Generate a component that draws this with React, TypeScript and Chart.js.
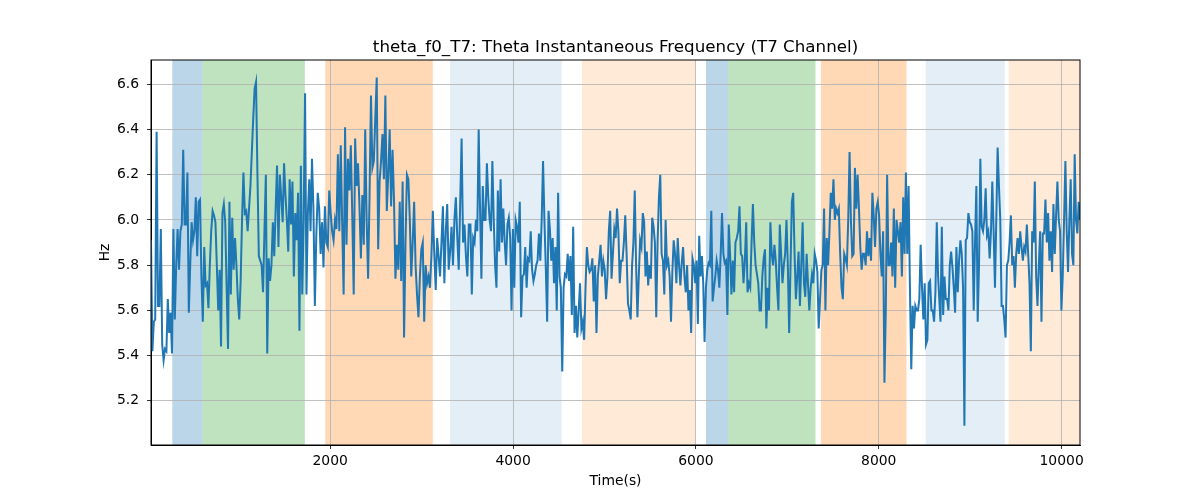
import { useEffect, useRef } from 'react';
import Chart from 'chart.js/auto';

// Hz readings, split into chunks that each cover a time window (s)
const seg1 = [5.91, 5.42, 5.55, 5.56, 6.39, 5.62, 5.62, 5.96, 5.45, 5.38, 5.43, 5.42, 5.65, 5.5, 5.59, 5.41, 5.96, 5.56, 5.8, 5.96, 5.78, 5.95, 5.98, 6.31, 5.98, 5.98, 6.21, 5.59, 5.8, 5.99, 5.91, 5.95, 6.1, 5.84, 6.08, 6.09, 5.75, 5.55, 5.88, 5.71, 5.72, 5.61, 5.8, 5.95, 6.04, 6.02, 5.99, 5.8, 5.6, 5.78, 5.44, 6.03, 6.07, 5.99, 5.7, 5.43, 6.08, 5.67, 6.01, 5.78, 5.92, 5.8, 5.65, 5.56, 5.73, 6.0, 6.21, 6.03, 6.04, 5.95, 6.05, 6.15, 6.3, 6.45, 6.58, 6.61, 6.2, 5.84, 5.82, 5.8, 5.68, 5.95, 6.2, 5.41, 5.83, 5.73, 5.8, 5.99, 5.84, 6.05, 6.24, 5.88, 6.2, 6.1, 5.99, 6.25, 6.11, 6.0, 5.86, 6.18, 5.98, 6.17, 5.75, 6.03, 5.91, 6.12, 5.51, 6.24, 5.67, 6.0, 6.56, 5.67, 6.03, 6.18];
const seg2 = [5.95, 6.27, 6.05, 5.62, 5.93, 6.12, 6.05, 5.85, 5.99, 5.79, 6.06, 5.9, 5.88, 6.13, 6.03, 5.95, 5.91, 6.0, 5.96, 6.29, 5.95, 6.33, 5.98, 5.67, 6.41, 5.89, 6.27, 6.13, 6.33, 6.02, 5.67, 6.36, 6.15, 6.25, 6.06, 5.83, 6.11, 5.89, 6.4, 6.0, 5.74, 6.1, 6.55, 6.23, 6.26, 6.45, 6.63, 5.87, 6.17, 6.26, 6.38, 6.18, 6.55, 6.04, 6.2, 6.4, 6.06, 6.31, 6.09, 5.74, 5.89, 5.78, 6.08, 5.73, 6.17, 5.48, 5.9, 6.2, 6.18, 6.0, 5.75, 5.9, 6.08, 5.8, 5.67, 5.57, 5.75, 5.87, 5.9, 5.55, 5.8, 5.72, 5.75, 5.7, 5.84, 6.04, 5.85, 5.69, 5.92, 5.84, 5.75, 5.9, 6.06, 5.72, 5.95, 6.07, 5.78, 5.86, 5.97, 5.8, 6.0, 6.1, 5.92, 5.78, 6.07, 6.36, 5.9, 5.98, 5.84, 5.75, 5.98];
const seg3 = [5.98, 5.67, 5.92, 5.9, 6.0, 5.95, 6.4, 6.05, 5.74, 6.15, 6.0, 6.0, 6.25, 6.1, 6.0, 5.95, 6.26, 6.0, 5.8, 5.7, 6.13, 5.86, 6.18, 5.9, 6.05, 5.9, 5.8, 5.98, 6.01, 5.92, 5.6, 5.96, 5.7, 6.0, 5.97, 5.9, 6.08, 5.57, 5.75, 5.76, 5.88, 5.7, 5.83, 5.82, 5.95, 5.78, 5.73, 5.76, 5.8, 5.82, 5.94, 5.82, 6.0, 6.26, 6.0, 5.79, 5.55, 6.04, 5.96, 5.82, 5.92, 5.72, 5.88, 5.6, 6.12, 5.75, 5.7, 5.33, 5.7, 5.76, 5.75, 5.85, 5.73, 5.84, 5.58, 5.97, 5.5, 5.62, 5.48, 5.6, 5.72, 5.52, 5.55, 5.47, 5.7, 5.88, 5.8, 5.77, 5.78, 5.83, 5.64, 5.8, 5.5, 5.75, 5.82, 5.89, 5.75, 5.82, 5.78, 5.65, 5.75, 5.95, 6.04, 5.74, 5.85, 5.96, 5.92, 6.05, 5.95, 5.72, 5.82, 5.82, 5.9, 6.02, 5.85, 5.63, 5.6];
const seg4 = [5.56, 5.8, 5.9, 6.13, 5.8, 5.57, 5.75, 5.91, 5.88, 6.03, 5.99, 5.75, 5.86, 5.71, 5.8, 5.74, 6.01, 5.97, 5.9, 5.57, 5.9, 6.1, 6.2, 5.85, 5.82, 5.67, 6.0, 5.8, 5.82, 5.75, 5.55, 5.77, 5.91, 5.85, 5.72, 5.92, 5.8, 5.71, 5.81, 5.88, 5.75, 5.68, 5.8, 5.6, 5.69, 5.5, 5.83, 5.8, 5.72, 5.82, 5.54, 5.93, 5.75, 5.84, 5.72, 5.46, 5.7, 5.78, 5.81, 5.8, 6.04, 5.64, 5.7, 5.75, 5.82, 5.78, 5.7, 5.85, 6.03, 5.85, 5.81, 5.82, 5.58, 5.98, 5.85, 5.67, 5.82, 5.68, 5.9, 5.92, 5.95, 6.06, 5.85, 5.84, 5.72, 5.82, 5.99, 5.68, 5.72, 5.7, 5.9, 6.07, 5.9, 5.8, 5.76, 5.72, 5.6, 5.6, 5.75, 5.83, 5.87, 5.52, 5.7, 5.6, 5.99, 5.85, 5.8, 5.89, 5.82, 5.7, 5.6, 5.98, 5.85, 5.72, 5.8, 5.85, 6.0, 5.8, 5.5];
const seg5 = [5.8, 6.08, 6.12, 5.85, 5.65, 5.75, 5.86, 5.62, 5.8, 5.99, 5.72, 5.66, 5.85, 5.72, 5.6, 5.7, 5.76, 5.72, 5.85, 5.82, 5.77, 5.52, 5.65, 5.78, 5.8, 6.05, 5.6, 5.92, 5.8, 5.95, 6.12, 6.05, 6.18, 6.0, 6.05, 6.03, 6.05, 5.85, 5.7, 5.65, 5.85, 5.83, 5.8, 6.0, 6.3, 6.0, 5.84, 5.85, 6.23, 6.05, 6.2, 6.05, 5.88, 5.78, 5.85, 5.85, 5.8, 5.95, 5.84, 5.92, 5.82, 6.12, 6.02, 5.88, 6.05, 6.08, 6.02, 5.85, 5.75, 5.95, 5.28, 5.6, 6.2, 5.8, 5.8, 5.9, 5.75, 6.05, 5.7, 6.0, 5.95, 5.9, 5.99, 5.75, 6.1, 5.85, 6.21, 5.85, 6.15, 5.7, 5.34, 5.62, 5.52, 5.62, 5.6, 5.6, 5.65, 5.89, 5.7, 5.56, 5.72, 5.45, 5.47, 5.72, 5.73, 5.6, 5.6, 5.55, 5.68, 5.99, 5.75];
const seg6 = [5.55, 5.97, 5.58, 5.75, 5.65, 5.65, 5.6, 5.8, 5.86, 5.79, 5.7, 5.59, 5.88, 5.68, 5.82, 5.91, 5.85, 5.7, 5.09, 5.91, 5.92, 6.03, 5.99, 5.98, 5.95, 5.6, 5.9, 6.15, 5.55, 5.8, 6.27, 5.97, 5.95, 6.0, 6.14, 5.93, 5.95, 5.83, 5.95, 6.17, 5.95, 5.7, 6.0, 6.32, 6.15, 6.0, 5.62, 5.62, 5.56, 5.48, 5.8, 5.82, 5.9, 6.02, 5.8, 5.84, 5.7, 5.85, 5.92, 5.85, 5.95, 5.88, 5.82, 5.88, 5.86, 5.98, 5.85, 5.72, 5.42, 5.95, 5.9, 6.17, 5.75, 5.62, 5.8, 5.95, 5.55, 5.94, 5.94, 6.09, 5.9, 6.03, 5.82, 5.95, 5.77, 6.07, 5.85, 6.02, 6.17, 6.0, 5.95, 5.6, 5.75, 6.0, 6.26, 5.95, 5.77, 6.0, 6.18, 5.85, 5.8, 6.29, 6.0, 5.94, 6.08, 6.0];

const segments = [seg1, seg2, seg3, seg4, seg5, seg6];
const segmentStarts = [40, 1785, 3534, 5287, 7035, 8675];
const segmentEnds = [1771, 3516, 5272, 7020, 8649, 10201];

// shaded intervals: start, end, kind
const spanStarts = [273, 601, 1946, 3312, 4754, 6110, 6354, 7367, 8514, 9421];
const spanEnds = [601, 1723, 3122, 4532, 5990, 6354, 7308, 8303, 9378, 10201];
const spanKinds = ['blue', 'green', 'orange', 'lightblue', 'lightorange', 'blue', 'green', 'orange', 'lightblue', 'lightorange'];

const xTicks = [2000, 4000, 6000, 8000, 10000];
const yTicks = [5.2, 5.4, 5.6, 5.8, 6.0, 6.2, 6.4, 6.6];

const titleText = 'theta_f0_T7: Theta Instantaneous Frequency (T7 Channel)';

const spanColors: Record<string, string> = {
  blue: 'rgba(31, 119, 180, 0.3)',
  green: 'rgba(44, 160, 44, 0.3)',
  orange: 'rgba(255, 127, 14, 0.3)',
  lightblue: 'rgba(31, 119, 180, 0.12)',
  lightorange: 'rgba(255, 127, 14, 0.16)',
};

const FONT = 'DejaVu Sans';

export default function App() {
  const canvasRef = useRef<HTMLCanvasElement | null>(null);

  useEffect(() => {
    document.body.style.margin = '0';
    if (!canvasRef.current) return;

    const points: { x: number; y: number }[] = [];
    segments.forEach((vals, s) => {
      const step = (segmentEnds[s] - segmentStarts[s]) / (vals.length - 1);
      vals.forEach((v, i) => points.push({ x: segmentStarts[s] + i * step, y: v }));
    });

    const decorPlugin = {
      id: 'decor',
      beforeDraw(chart: any) {
        const { ctx, chartArea, scales } = chart;
        ctx.save();
        spanStarts.forEach((start, i) => {
          const x0 = scales.x.getPixelForValue(start);
          const x1 = scales.x.getPixelForValue(spanEnds[i]);
          ctx.fillStyle = spanColors[spanKinds[i]];
          ctx.fillRect(x0, chartArea.top, x1 - x0, chartArea.bottom - chartArea.top);
        });
        ctx.restore();
      },
      afterDraw(chart: any) {
        const { ctx, chartArea } = chart;
        ctx.save();
        ctx.strokeStyle = '#000';
        ctx.lineWidth = 1;
        ctx.strokeRect(chartArea.left, chartArea.top, chartArea.right - chartArea.left, chartArea.bottom - chartArea.top);
        // title centred over the plot area, like matplotlib
        ctx.fillStyle = '#000';
        ctx.font = `16.7px "${FONT}"`;
        ctx.textAlign = 'center';
        ctx.textBaseline = 'alphabetic';
        ctx.fillText(titleText, (chartArea.left + chartArea.right) / 2, chartArea.top - 8);
        ctx.restore();
      },
    };

    const chart = new Chart(canvasRef.current, {
      type: 'line',
      data: {
        datasets: [
          {
            data: points,
            borderColor: '#1f77b4',
            borderWidth: 2,
            pointRadius: 0,
            tension: 0,
          },
        ],
      },
      options: {
        animation: false,
        responsive: true,
        maintainAspectRatio: false,
        layout: { padding: { left: 0, right: 120, top: 60, bottom: 0 } },
        plugins: {
          legend: { display: false },
          tooltip: { enabled: false },
          title: { display: false },
        },
        scales: {
          x: {
            type: 'linear',
            min: 40,
            max: 10201,
            afterBuildTicks: (scale: any) => {
              scale.ticks = xTicks.map((v) => ({ value: v }));
            },
            afterFit: (scale: any) => {
              scale.height = 55;
            },
            ticks: {
              color: '#000',
              font: { family: FONT, size: 13.9 },
              padding: 4,
              maxRotation: 0,
              callback: (v: any) => String(v),
            },
            grid: { color: '#b0b0b0', lineWidth: 0.8, tickColor: '#000', tickLength: 4, tickWidth: 0.8 },
            border: { display: true, color: '#000', width: 1 },
            title: {
              display: true,
              text: 'Time(s)',
              color: '#000',
              font: { family: FONT, size: 13.9 },
              padding: { top: 0, bottom: 10 },
            },
          },
          y: {
            min: 5.005,
            max: 6.707,
            afterBuildTicks: (scale: any) => {
              scale.ticks = yTicks.map((v) => ({ value: v }));
            },
            afterFit: (scale: any) => {
              scale.width = 151;
            },
            ticks: {
              color: '#000',
              font: { family: FONT, size: 13.9 },
              padding: 8,
              callback: (v: any) => Number(v).toFixed(1),
            },
            grid: { color: '#b0b0b0', lineWidth: 0.8, tickColor: '#000', tickLength: 4, tickWidth: 0.8 },
            border: { display: true, color: '#000', width: 1 },
            title: {
              display: true,
              text: 'Hz',
              color: '#000',
              font: { family: FONT, size: 13.9 },
              padding: { top: 97, bottom: 0 },
            },
          },
        },
      },
      plugins: [decorPlugin],
    });

    return () => {
      chart.destroy();
    };
  }, []);

  return (
    <div style={{ width: 1200, height: 500, position: 'relative', background: '#fff' }}>
      <canvas ref={canvasRef} />
    </div>
  );
}
